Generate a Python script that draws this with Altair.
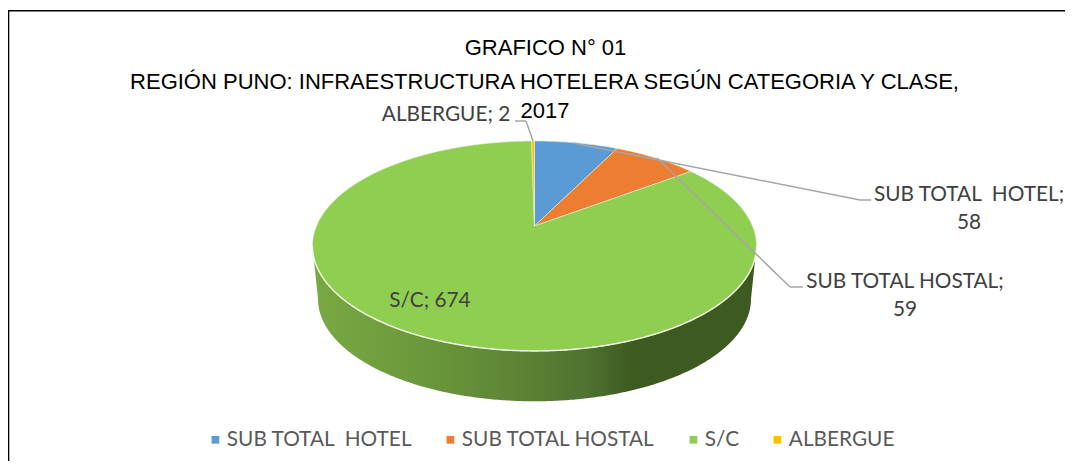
import math
import altair as alt

categories = ["SUB TOTAL\u00a0\u00a0HOTEL", "SUB TOTAL HOSTAL", "S/C", "ALBERGUE"]
values = [58, 59, 674, 2]
colors = ["#5B9BD5", "#ED7D31", "#8FCE50", "#FFC000"]
title_lines = ["GRAFICO N° 01",
               "REGIÓN PUNO: INFRAESTRUCTURA HOTELERA SEGÚN CATEGORIA Y CLASE,",
               "2017"]

W, H = 1057, 453
OFF = 8
CX, CY = 534.5 - OFF, 226 - OFF   # projected pie centre
K, A, B = 0.19, 101.2, 218.0      # perspective of the 3D pie
DEPTH_S, DEPTH_CY, MID_Y = 0.975, 299 - OFF, 246 - OFF


def top(theta):
    u, v = math.sin(theta), math.cos(theta)
    d = 1 + K * v
    return [CX + B * u / d, CY - A * v / d]


def bottom(theta):
    x, y = top(theta)
    return [CX + DEPTH_S * (x - CX), DEPTH_CY + DEPTH_S * (y - MID_Y)]


def arc(fn, a0, a1, step=math.radians(0.5)):
    n = max(2, int(abs(a1 - a0) / step) + 1)
    return [fn(a0 + (a1 - a0) * i / (n - 1)) for i in range(n)]


def feature(kind, coords, **props):
    return {"type": "Feature", "properties": props,
            "geometry": {"type": kind, "coordinates": coords}}


def geo(features):
    return alt.InlineData(values={"type": "FeatureCollection", "features": features},
                          format=alt.DataFormat(type="json", property="features"))


total = sum(values)
slices, cum = [], 0
for cat, val in zip(categories, values):
    a0 = 2 * math.pi * cum / total
    cum += val
    a1 = 2 * math.pi * cum / total
    ring = [[CX, CY]] + arc(top, a0, a1) + [[CX, CY]]
    slices.append(feature("Polygon", [ring], cat=cat, value=val))

a_l = math.acos(-K)
a_r = 2 * math.pi - a_l
wall_ring = arc(top, a_l, a_r) + arc(bottom, a_r, a_l)
wall_ring.append(wall_ring[0])
wall_f = [feature("Polygon", [wall_ring])]
rim_f = [feature("LineString", arc(top, a_l, a_r))]

proj = dict(type="identity", scale=1, translate=[0, 0])

wall = alt.Chart(geo(wall_f)).mark_geoshape(
    fill=alt.Gradient(gradient="linear", x1=0, x2=1, y1=0, y2=0, stops=[
        alt.GradientStop(offset=0.0, color="#79A944"),
        alt.GradientStop(offset=0.25, color="#6B983B"),
        alt.GradientStop(offset=0.45, color="#5E8535"),
        alt.GradientStop(offset=0.62, color="#4F7230"),
        alt.GradientStop(offset=0.72, color="#3D5A20"),
        alt.GradientStop(offset=1.0, color="#3D5A20"),
    ]),
).project(**proj)

pie = alt.Chart(geo(slices)).mark_geoshape(stroke="#E9F0DC", strokeWidth=0.6).encode(
    color=alt.Color("properties.cat:N",
                    scale=alt.Scale(domain=categories, range=colors),
                    legend=alt.Legend(title=None, orient="none", legendX=197, legendY=421,
                                      direction="horizontal", columns=4, columnPadding=27,
                                      symbolType="square", symbolSize=60, symbolStrokeWidth=0,
                                      labelFont="Lato", labelFontSize=20.8, labelLimit=400,
                                      labelColor="#595959", labelOffset=1)),
).project(**proj)

rim = alt.Chart(geo(rim_f)).mark_geoshape(filled=False, stroke="#F1F6E6", strokeWidth=1.4).project(**proj)


def rule(x1, y1, x2, y2, color="#A6A6A6", width=1.5):
    return alt.Chart(geo(rim_f)).mark_rule(color=color, strokeWidth=width).encode(
        x=alt.value(x1 - OFF), y=alt.value(y1 - OFF),
        x2=alt.value(x2 - OFF), y2=alt.value(y2 - OFF))


def label(text, x, y, size=20.8, color="#404040", font="Lato", align="center"):
    return alt.Chart(geo(rim_f)).mark_text(text=text, font=font, fontSize=size, color=color,
                                           align=align, baseline="middle").encode(
        x=alt.value(x - OFF), y=alt.value(y - OFF))


leaders = [
    rule(515, 121, 526, 121), rule(526, 121, 533, 141),
    rule(573, 143, 860, 200), rule(860, 200, 871, 200),
    rule(657, 158, 790, 287), rule(790, 287, 803, 287),
]
frame = [rule(8, 10.7, 1073, 10.7, "#000000", 1.6), rule(8.5, 10, 8.5, 469, "#000000", 1.6)]

labels = [
    label("ALBERGUE; 2", 446, 115),
    label("S/C; 674", 430, 301),
    label("SUB TOTAL\u00a0\u00a0HOTEL;", 969, 195),
    label("58", 969, 223),
    label("SUB TOTAL HOSTAL;", 905, 282),
    label("59", 905, 310),
]
TF = "Liberation Sans"
titles = [
    label(title_lines[0], 545.5, 48, 22, "#000000", TF),
    label(title_lines[1], 544.5, 82, 22, "#000000", TF),
    label(title_lines[2], 545, 111, 22, "#000000", TF),
]

chart = alt.layer(
    wall, pie, rim, *frame, *titles, *leaders, *labels
).properties(
    width=W, height=H, padding=0, autosize=alt.AutoSizeParams(type="none"),
).configure_view(stroke=None)

chart.save("out.html", embed_options={"renderer": "svg", "actions": False})
